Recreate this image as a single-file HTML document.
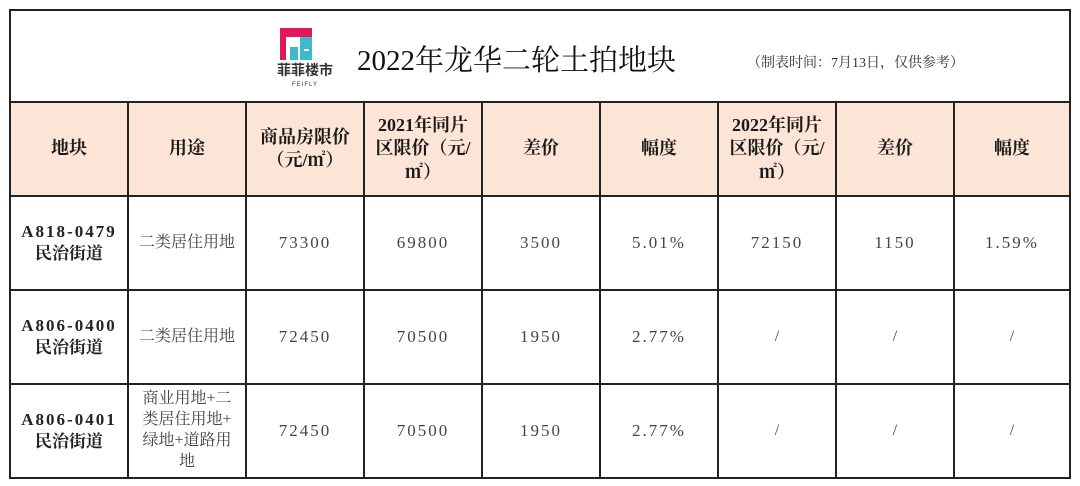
<!DOCTYPE html>
<html><head><meta charset="utf-8"><style>
body{margin:0;width:1080px;height:486px;background:#fff;position:relative;overflow:hidden;font-family:"Liberation Serif","Noto Serif CJK SC",serif;color:#222}
.c{position:absolute;display:flex;align-items:center;justify-content:center;text-align:center;box-sizing:border-box;border-right:2px solid #222;border-bottom:2px solid #222;line-height:1.3}
.h{background:#fce4d6;font-size:18px;font-weight:bold;color:#1a1a1a}
.d{font-size:16px;color:#444}
.n{font-family:"Liberation Serif",serif;font-size:17px;letter-spacing:2px;color:#444}
.b{font-weight:bold;font-size:17px;color:#222}
.b span{letter-spacing:2px}
</style></head><body>
<div style="position:absolute;left:9px;top:9px;width:1062px;height:470px;border:2px solid #222;box-sizing:border-box"></div>
<div style="position:absolute;left:9px;top:101px;width:1062px;height:2px;background:#222"></div>
<svg style="position:absolute;left:270px;top:22px" width="70" height="70">
<rect x="10" y="6" width="32" height="32" fill="#e0195a"/>
<rect x="16" y="15" width="26" height="23" fill="#fff"/>
<rect x="20" y="25" width="8" height="13" fill="#3fb9cc"/>
<rect x="30" y="15" width="12" height="23" fill="#3fb9cc"/>
<rect x="34" y="27" width="5" height="2" fill="#fff"/>
<text x="35" y="53" font-size="14" font-weight="bold" text-anchor="middle" fill="#333" font-family="Noto Sans CJK SC,sans-serif">菲菲楼市</text>
<text x="35" y="64" font-size="6" text-anchor="middle" fill="#333" font-family="Liberation Sans,sans-serif" letter-spacing="1">FEIFLY</text>
</svg>
<div style="position:absolute;left:357px;top:38px;font-size:29px;color:#111">2022年龙华二轮土拍地块</div>
<div style="position:absolute;left:747px;top:52px;font-size:14px;color:#333">（制表时间：7月13日，仅供参考）</div>

<div class="c h" style="left:9px;top:103px;width:120px;height:94px;border-left:2px solid #222">地块</div>
<div class="c h" style="left:129px;top:103px;width:118px;height:94px">用途</div>
<div class="c h" style="left:247px;top:103px;width:118px;height:94px">商品房限价<br>（元/㎡）</div>
<div class="c h" style="left:365px;top:103px;width:118px;height:94px">2021年同片<br>区限价（元/<br>㎡）</div>
<div class="c h" style="left:483px;top:103px;width:118px;height:94px">差价</div>
<div class="c h" style="left:601px;top:103px;width:118px;height:94px">幅度</div>
<div class="c h" style="left:719px;top:103px;width:118px;height:94px">2022年同片<br>区限价（元/<br>㎡）</div>
<div class="c h" style="left:837px;top:103px;width:118px;height:94px">差价</div>
<div class="c h" style="left:955px;top:103px;width:116px;height:94px">幅度</div>

<div class="c b" style="left:9px;top:197px;width:120px;height:94px;border-left:2px solid #222"><div><span>A818-0479</span><br>民治街道</div></div>
<div class="c d" style="left:129px;top:197px;width:118px;height:94px">二类居住用地</div>
<div class="c n" style="left:247px;top:197px;width:118px;height:94px">73300</div>
<div class="c n" style="left:365px;top:197px;width:118px;height:94px">69800</div>
<div class="c n" style="left:483px;top:197px;width:118px;height:94px">3500</div>
<div class="c n" style="left:601px;top:197px;width:118px;height:94px">5.01%</div>
<div class="c n" style="left:719px;top:197px;width:118px;height:94px">72150</div>
<div class="c n" style="left:837px;top:197px;width:118px;height:94px">1150</div>
<div class="c n" style="left:955px;top:197px;width:116px;height:94px">1.59%</div>

<div class="c b" style="left:9px;top:291px;width:120px;height:94px;border-left:2px solid #222"><div><span>A806-0400</span><br>民治街道</div></div>
<div class="c d" style="left:129px;top:291px;width:118px;height:94px">二类居住用地</div>
<div class="c n" style="left:247px;top:291px;width:118px;height:94px">72450</div>
<div class="c n" style="left:365px;top:291px;width:118px;height:94px">70500</div>
<div class="c n" style="left:483px;top:291px;width:118px;height:94px">1950</div>
<div class="c n" style="left:601px;top:291px;width:118px;height:94px">2.77%</div>
<div class="c d" style="left:719px;top:291px;width:118px;height:94px">/</div>
<div class="c d" style="left:837px;top:291px;width:118px;height:94px">/</div>
<div class="c d" style="left:955px;top:291px;width:116px;height:94px">/</div>

<div class="c b" style="left:9px;top:385px;width:120px;height:94px;border-left:2px solid #222"><div><span>A806-0401</span><br>民治街道</div></div>
<div class="c d" style="left:129px;top:385px;width:118px;height:94px;line-height:1.3">商业用地+二<br>类居住用地+<br>绿地+道路用<br>地</div>
<div class="c n" style="left:247px;top:385px;width:118px;height:94px">72450</div>
<div class="c n" style="left:365px;top:385px;width:118px;height:94px">70500</div>
<div class="c n" style="left:483px;top:385px;width:118px;height:94px">1950</div>
<div class="c n" style="left:601px;top:385px;width:118px;height:94px">2.77%</div>
<div class="c d" style="left:719px;top:385px;width:118px;height:94px">/</div>
<div class="c d" style="left:837px;top:385px;width:118px;height:94px">/</div>
<div class="c d" style="left:955px;top:385px;width:116px;height:94px">/</div>
</body></html>
